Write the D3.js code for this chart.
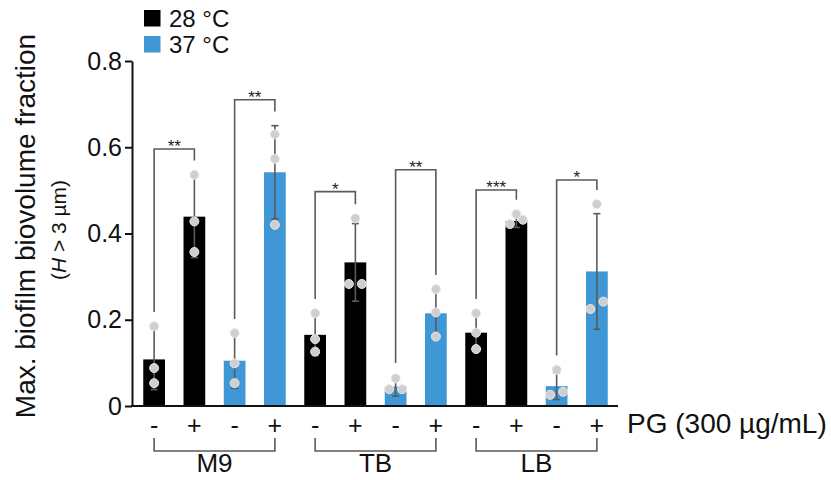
<!DOCTYPE html>
<html>
<head>
<meta charset="utf-8">
<script src="https://cdn.jsdelivr.net/npm/d3@7"></script>
<style>
  body { margin: 0; background: #fff; }
  svg { font-family: "Liberation Sans", Arial, sans-serif; }
</style>
</head>
<body>
<svg id="chart" width="831" height="480"></svg>
<script>
// data
const media = ["M9", "TB", "LB"];
const temps = ["28 °C", "37 °C"];
const pgSigns = ["-", "+", "-", "+"];
const barTemp = [0, 0, 1, 1, 0, 0, 1, 1, 0, 0, 1, 1];
const means = [0.108, 0.439, 0.105, 0.542, 0.165, 0.333, 0.045, 0.215, 0.170, 0.429, 0.046, 0.312];
const sds = [0.070, 0.095, 0.064, 0.108, 0.048, 0.090, 0.022, 0.055, 0.043, 0.015, 0.031, 0.134];
const replicates = [
  [0.185, 0.088, 0.053], [0.536, 0.428, 0.357], [0.169, 0.099, 0.053], [0.630, 0.573, 0.420],
  [0.215, 0.155, 0.126], [0.435, 0.283, 0.283], [0.064, 0.039, 0.039], [0.271, 0.217, 0.161],
  [0.215, 0.170, 0.132], [0.445, 0.432, 0.422], [0.084, 0.033, 0.026], [0.468, 0.242, 0.225]
];
const sigPairs = [[0, 1], [2, 3], [4, 5], [6, 7], [8, 9], [10, 11]];
const sigLabels = ["**", "**", "*", "**", "***", "*"];
const sigTops = [0.596, 0.710, 0.497, 0.548, 0.501, 0.524];
const yTicks = [0, 0.2, 0.4, 0.6, 0.8];

const colors = ["#000000", "#3f98d5"];
const svg = d3.select("#chart");

const x = d3.scaleBand()
  .domain(d3.range(means.length))
  .range([134, 617])
  .paddingInner(0.46)
  .paddingOuter(0.23);

const y = d3.scaleLinear().domain([0, 0.8]).range([406, 61]);
const cx = i => x(i) + x.bandwidth() / 2;

// y axis
const yAxis = svg.append("g")
  .attr("transform", "translate(132,0)")
  .call(d3.axisLeft(y).tickValues(yTicks).tickSize(7).tickSizeOuter(0).tickPadding(3)
    .tickFormat(d => d === 0 ? "0" : d3.format(".1f")(d)));
yAxis.select(".domain").attr("stroke", "#111").attr("stroke-width", 2);
yAxis.selectAll(".tick line").attr("stroke", "#111").attr("stroke-width", 2);
yAxis.selectAll(".tick text").attr("font-size", 25).attr("fill", "#111");

// bars
svg.append("g").selectAll("rect")
  .data(means)
  .join("rect")
  .attr("x", (d, i) => x(i))
  .attr("width", x.bandwidth())
  .attr("y", d => y(d))
  .attr("height", d => y(0) - y(d))
  .attr("fill", (d, i) => colors[barTemp[i]]);

// baseline
svg.append("line")
  .attr("x1", 131).attr("x2", 618)
  .attr("y1", y(0)).attr("y2", y(0))
  .attr("stroke", "#111").attr("stroke-width", 2);

// error bars
const eb = svg.append("g").attr("stroke", "#5a5a5a").attr("stroke-width", 1.6);
means.forEach((m, i) => {
  const lo = y(m - sds[i]), hi = y(m + sds[i]);
  eb.append("line").attr("x1", cx(i)).attr("x2", cx(i)).attr("y1", lo).attr("y2", hi);
  eb.append("line").attr("x1", cx(i) - 3.5).attr("x2", cx(i) + 3.5).attr("y1", hi).attr("y2", hi);
  eb.append("line").attr("x1", cx(i) - 3.5).attr("x2", cx(i) + 3.5).attr("y1", lo).attr("y2", lo);
});

// replicate dots, spread sideways when they would overlap
function dotOffsets(vals) {
  const order = vals.map((v, k) => k).sort((a, b) => vals[a] - vals[b]);
  const off = vals.map(() => 0);
  let cluster = [order[0]];
  const flush = () => {
    if (cluster.length === 2) { off[cluster[0]] = -6.5; off[cluster[1]] = 6.5; }
    if (cluster.length === 3) { off[cluster[0]] = -6.5; off[cluster[1]] = 6.5; off[cluster[2]] = 0; }
  };
  for (let k = 1; k < order.length; k++) {
    if (vals[order[k]] - vals[order[k - 1]] < 0.025) cluster.push(order[k]);
    else { flush(); cluster = [order[k]]; }
  }
  flush();
  return off;
}
const dots = svg.append("g");
replicates.forEach((vals, i) => {
  const off = dotOffsets(vals);
  dots.selectAll(null)
    .data(vals)
    .join("circle")
    .attr("cx", (d, k) => cx(i) + off[k])
    .attr("cy", d => y(d))
    .attr("r", 4.5)
    .attr("fill", "#cfcfcf")
    .attr("stroke", "#e8e8e8")
    .attr("stroke-width", 1);
});

// significance brackets
const sig = svg.append("g");
const barMax = i => Math.max(means[i] + sds[i], d3.max(replicates[i]));
sigPairs.forEach(([a, b], k) => {
  const top = y(sigTops[k]);
  const path = d3.path();
  path.moveTo(cx(a), y(barMax(a) + 0.033));
  path.lineTo(cx(a), top);
  path.lineTo(cx(b), top);
  path.lineTo(cx(b), y(barMax(b) + 0.033));
  sig.append("path").attr("d", path.toString())
    .attr("fill", "none").attr("stroke", "#5a5a5a").attr("stroke-width", 1.6);
  sig.append("text")
    .attr("x", (cx(a) + cx(b)) / 2).attr("y", top + 3)
    .attr("text-anchor", "middle").attr("font-size", 17).attr("fill", "#222")
    .text(sigLabels[k]);
});

// PG signs under bars
svg.append("g").selectAll("text")
  .data(means)
  .join("text")
  .attr("x", (d, i) => cx(i))
  .attr("y", 434)
  .attr("text-anchor", "middle")
  .attr("font-size", 25).attr("fill", "#111")
  .text((d, i) => pgSigns[i % 4]);

svg.append("text")
  .attr("x", 627).attr("y", 433)
  .attr("font-size", 28).attr("fill", "#111")
  .text("PG (300 µg/mL)");

// media group brackets
media.forEach((m, g) => {
  const a = cx(g * 4), b = cx(g * 4 + 3);
  svg.append("path")
    .attr("d", `M${a},438V451H${b}V438`)
    .attr("fill", "none").attr("stroke", "#5a5a5a").attr("stroke-width", 1.6);
  svg.append("text")
    .attr("x", (a + b) / 2).attr("y", 472)
    .attr("text-anchor", "middle")
    .attr("font-size", 26).attr("fill", "#111")
    .text(m);
});

// y title
svg.append("text")
  .attr("transform", "translate(35,226) rotate(-90)")
  .attr("text-anchor", "middle")
  .attr("font-size", 28).attr("fill", "#111")
  .text("Max. biofilm biovolume fraction");
const sub = svg.append("text")
  .attr("transform", "translate(66,230) rotate(-90)")
  .attr("text-anchor", "middle")
  .attr("font-size", 21).attr("fill", "#111");
sub.append("tspan").text("(");
sub.append("tspan").attr("font-style", "italic").text("H");
sub.append("tspan").text(" > 3 µm)");

// legend
const leg = svg.append("g");
temps.forEach((t, k) => {
  leg.append("rect")
    .attr("x", 144).attr("y", 10 + k * 26)
    .attr("width", 16.5).attr("height", 16.5)
    .attr("fill", colors[k]);
  leg.append("text")
    .attr("x", 169).attr("y", 27 + k * 26)
    .attr("font-size", 24).attr("fill", "#111")
    .text(t);
});
</script>
</body>
</html>
